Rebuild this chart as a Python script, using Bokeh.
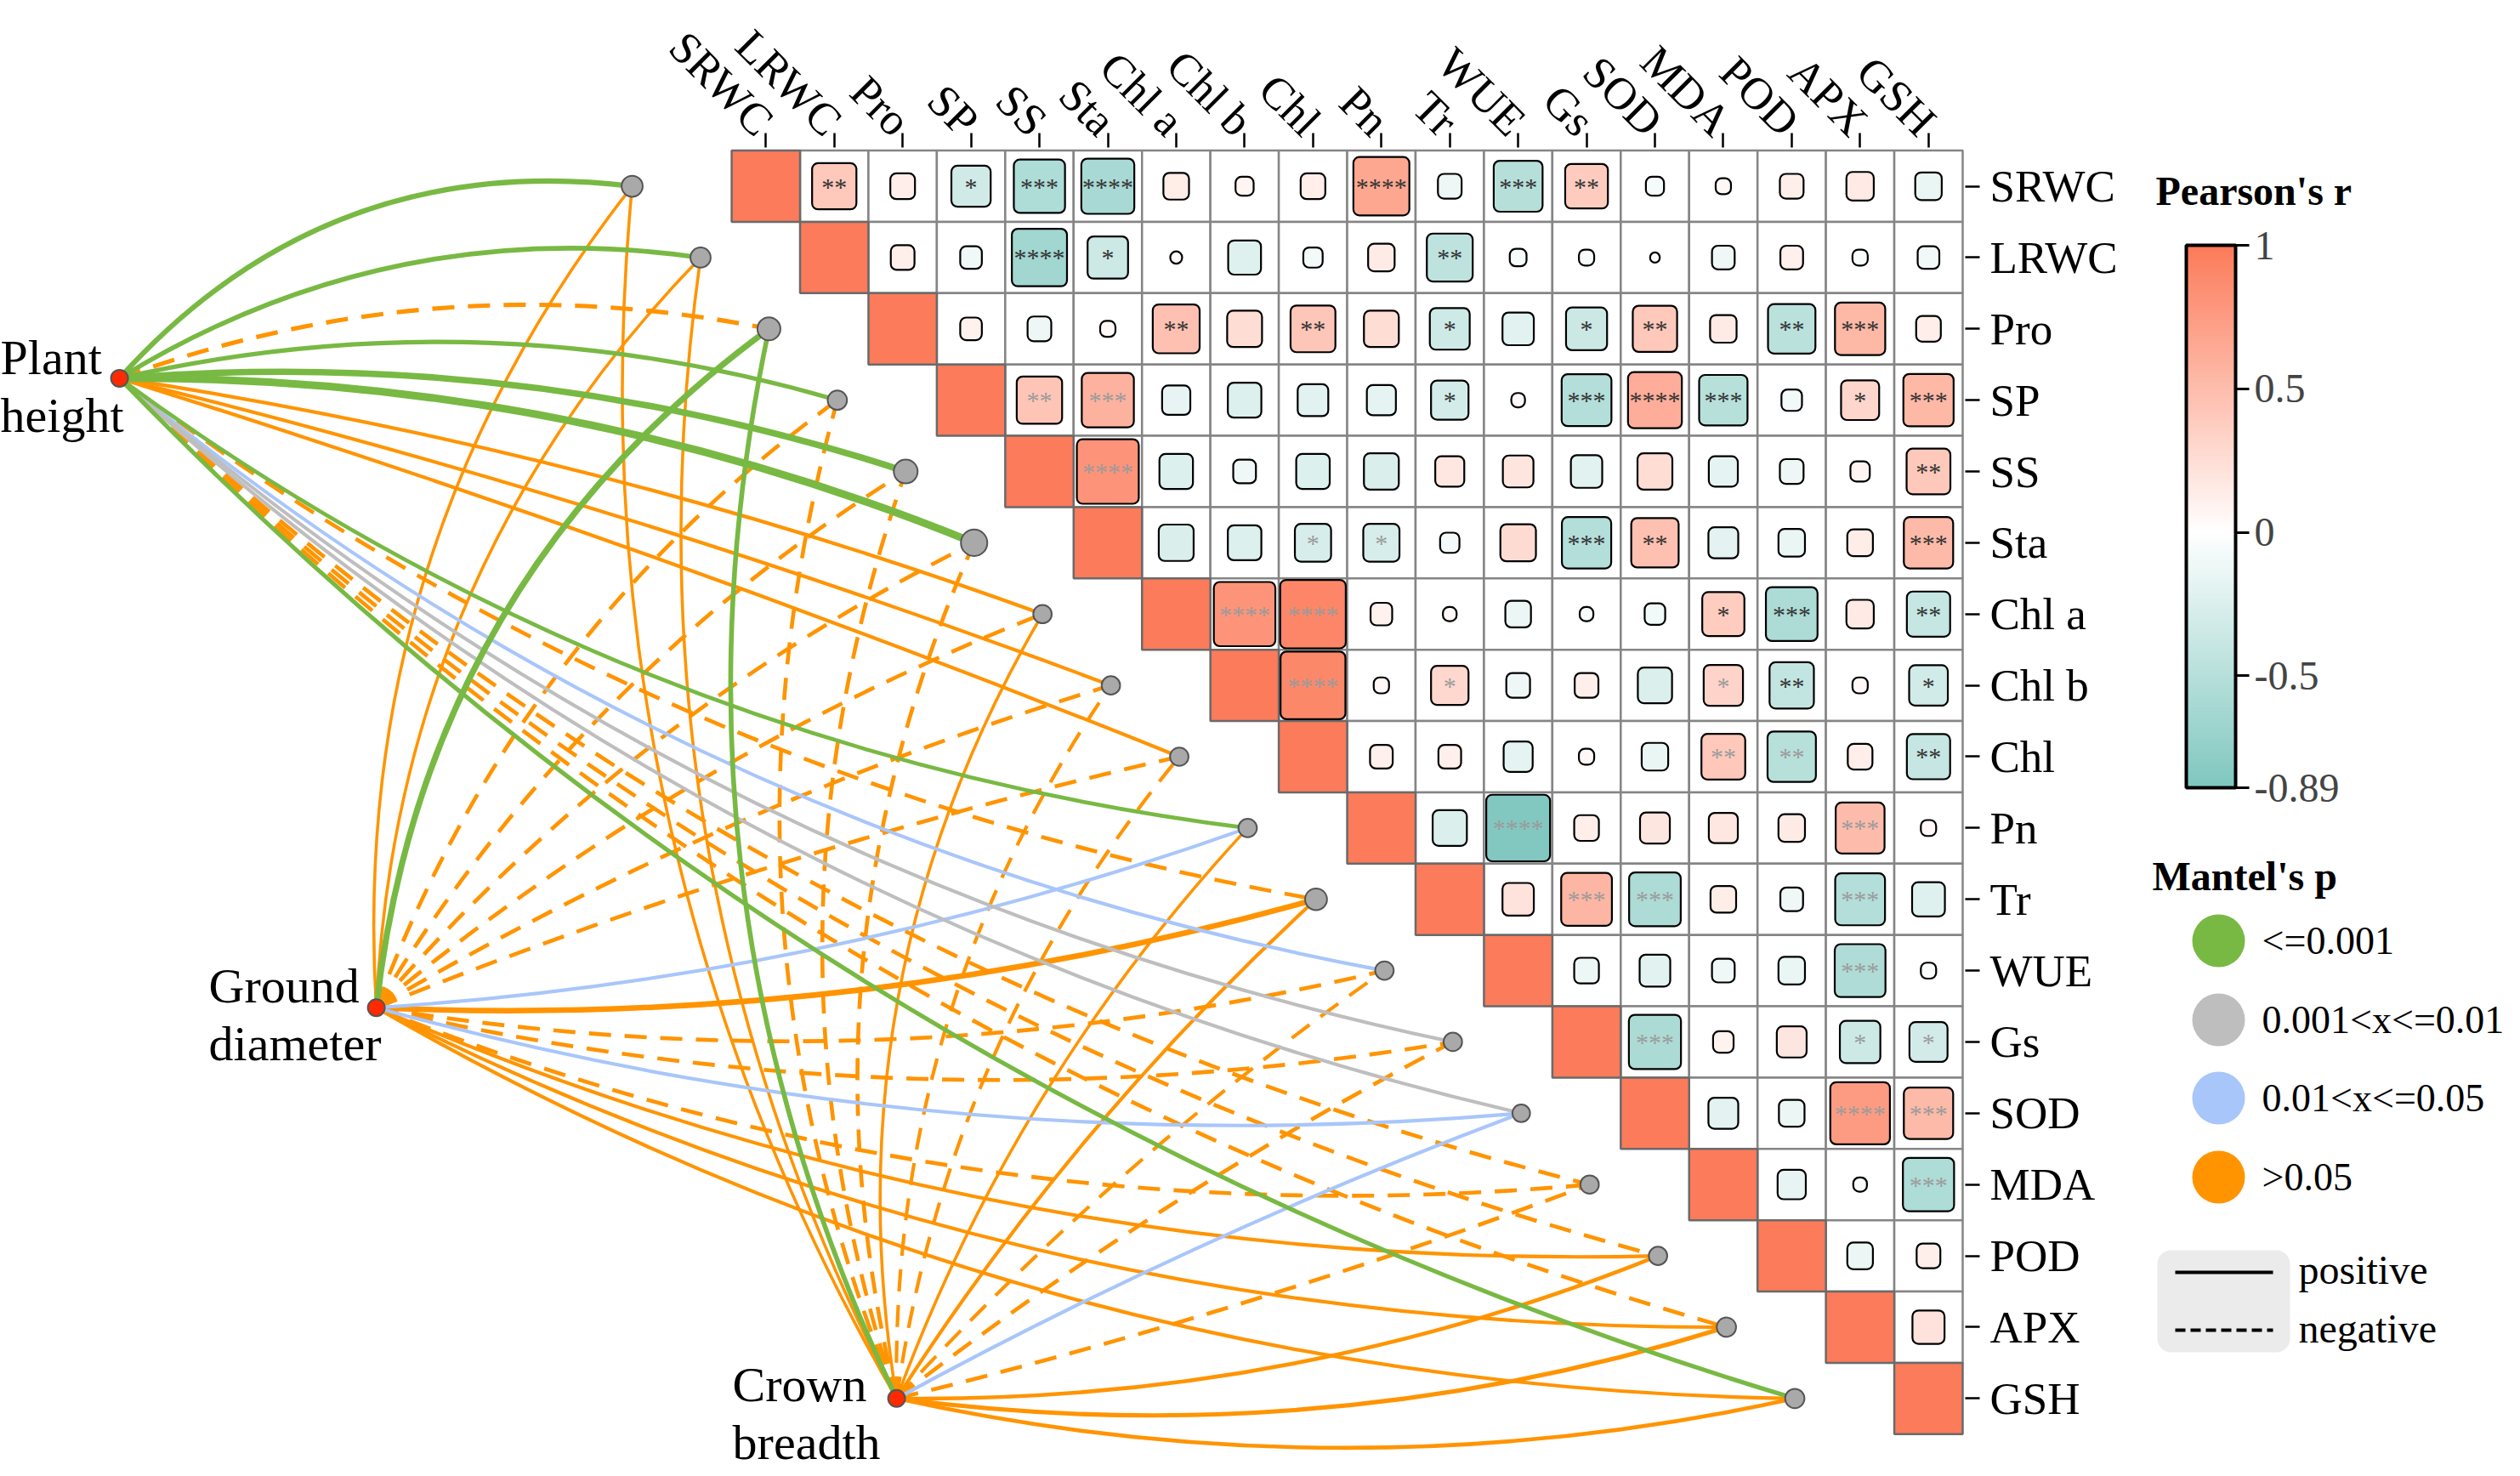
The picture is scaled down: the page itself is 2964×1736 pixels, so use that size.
import math
from bokeh.plotting import figure
from bokeh.models import Range1d, FixedTicker, LinearAxis, ColorBar, LinearColorMapper, ColumnDataSource
from bokeh.layouts import row
from bokeh.embed import file_html
from bokeh.resources import INLINE
from bokeh.core.properties import value

# ---------------- data ----------------
variables = ["SRWC", "LRWC", "Pro", "SP", "SS", "Sta", "Chl a", "Chl b", "Chl", "Pn",
             "Tr", "WUE", "Gs", "SOD", "MDA", "POD", "APX", "GSH"]

# Pearson's r, upper triangle, one list per row (columns after the diagonal)
r_SRWC = [0.42, 0.13, -0.33, -0.56, -0.60, 0.14, 0.07, 0.13, 0.67, -0.12, -0.51, 0.39, -0.07, 0.05, 0.12, 0.16, -0.15]
r_LRWC = [0.12, -0.10, -0.65, -0.35, 0.03, -0.23, -0.08, 0.15, -0.45, -0.06, -0.05, 0.02, -0.11, 0.11, -0.05, -0.10]
r_Pro = [0.10, -0.12, 0.05, 0.47, 0.26, 0.43, 0.26, -0.34, -0.21, -0.36, 0.42, 0.15, -0.48, 0.54, 0.13]
r_SP = [0.44, 0.58, -0.17, -0.24, -0.20, -0.18, -0.30, 0.04, -0.53, 0.62, -0.50, -0.09, 0.31, 0.54]
r_SS = [0.82, -0.24, -0.11, -0.24, -0.26, 0.18, 0.20, -0.21, 0.26, -0.18, -0.12, 0.08, 0.41]
r_Sta = [-0.26, -0.24, -0.28, -0.28, -0.08, 0.27, -0.52, 0.48, -0.19, -0.15, 0.14, 0.52]
r_Chla = [0.81, 0.92, 0.10, 0.04, -0.14, -0.04, -0.09, 0.38, -0.57, 0.16, -0.40]
r_Chlb = [0.90, 0.05, 0.30, -0.12, 0.12, -0.25, 0.33, -0.42, 0.05, -0.32]
r_Chl = [0.11, 0.11, -0.18, 0.05, -0.15, 0.41, -0.50, 0.13, -0.40]
r_Pn = [-0.25, -0.87, 0.13, 0.19, 0.18, 0.15, 0.51, 0.05]
r_Tr = [0.21, 0.55, -0.57, 0.14, -0.11, -0.53, -0.23]
r_WUE = [-0.13, -0.20, -0.11, -0.15, -0.55, -0.05]
r_Gs = [-0.58, 0.09, 0.19, -0.35, -0.31]
r_SOD = [-0.19, -0.14, 0.76, 0.52]
r_MDA = [-0.17, -0.04, -0.56]
r_POD = [-0.14, 0.12]
r_APX = [0.22]

# significance marks
s_SRWC = ["**", "", "*", "***", "****", "", "", "", "****", "", "***", "**", "", "", "", "", ""]
s_LRWC = ["", "", "****", "*", "", "", "", "", "**", "", "", "", "", "", "", ""]
s_Pro = ["", "", "", "**", "", "**", "", "*", "", "*", "**", "", "**", "***", ""]
s_SP = ["**", "***", "", "", "", "", "*", "", "***", "****", "***", "", "*", "***"]
s_SS = ["****", "", "", "", "", "", "", "", "", "", "", "", "**"]
s_Sta = ["", "", "*", "*", "", "", "***", "**", "", "", "", "***"]
s_Chla = ["****", "****", "", "", "", "", "", "*", "***", "", "**"]
s_Chlb = ["****", "", "*", "", "", "", "*", "**", "", "*"]
s_Chl = ["", "", "", "", "", "**", "**", "", "**"]
s_Pn = ["", "****", "", "", "", "", "***", ""]
s_Tr = ["", "***", "***", "", "", "***", ""]
s_WUE = ["", "", "", "", "***", ""]
s_Gs = ["***", "", "", "*", "*"]
s_SOD = ["", "", "****", "***"]
s_MDA = ["", "", "***"]
s_POD = ["", ""]
s_APX = [""]

gray_star_pairs = [("SP", "SS"), ("SP", "Sta"), ("SS", "Sta"), ("Sta", "Chl"), ("Sta", "Pn"),
                   ("Chl a", "Chl b"), ("Chl a", "Chl"), ("Chl b", "Chl"), ("Chl b", "Tr"),
                   ("Chl b", "MDA"), ("Chl", "MDA"), ("Chl", "POD"), ("Pn", "WUE"), ("Pn", "APX"),
                   ("Tr", "Gs"), ("Tr", "SOD"), ("Tr", "APX"), ("WUE", "APX"), ("Gs", "SOD"),
                   ("Gs", "APX"), ("Gs", "GSH"), ("SOD", "APX"), ("SOD", "GSH"), ("MDA", "GSH")]

# Mantel test: environment factors vs each variable
env_names = ["Plant height", "Ground diameter", "Crown breadth"]
mantel_p_PH = [0.001, 0.001, 0.62, 0.001, 0.001, 0.001, 0.21, 0.18, 0.25, 0.001, 0.45, 0.03, 0.006, 0.004, 0.55, 0.48, 0.51, 0.001]
mantel_r_PH = [0.29, 0.25, -0.21, 0.21, 0.42, 0.54, 0.13, 0.13, 0.13, 0.17, -0.17, 0.13, 0.13, 0.13, -0.17, -0.17, -0.17, 0.21]
mantel_p_GD = [0.35, 0.31, 0.001, 0.60, 0.50, 0.60, 0.70, 0.60, 0.60, 0.02, 0.07, 0.60, 0.50, 0.04, 0.60, 0.30, 0.30, 0.30]
mantel_r_GD = [0.08, 0.08, 0.38, -0.17, -0.17, -0.17, -0.17, -0.17, -0.17, 0.13, 0.33, -0.17, -0.17, 0.13, -0.17, 0.13, 0.13, 0.13]
mantel_p_CB = [0.40, 0.40, 0.001, 0.50, 0.50, 0.50, 0.30, 0.50, 0.50, 0.40, 0.30, 0.50, 0.50, 0.03, 0.50, 0.20, 0.15, 0.20]
mantel_r_CB = [0.08, 0.08, 0.25, -0.17, -0.17, -0.17, 0.08, -0.13, -0.13, 0.08, 0.13, -0.13, -0.17, 0.13, -0.17, 0.17, 0.21, 0.17]

# ---------------- styling ----------------
FONT = "Liberation Serif"
POS = (252, 123, 90)
NEG = (127, 199, 191)
R_MIN, R_MAX = -0.89, 1.0
P_COLORS = ["#78B943", "#BEBEBE", "#A8C6FA", "#FF9400"]
P_LABELS = ["<=0.001", "0.001<x<=0.01", "0.01<x<=0.05", ">0.05"]

# layout constants (pixels per grid cell, frame geometry)
SX, SY = 80.44, 83.87
FRAME_W, FRAME_H = 2311, 1556
TOP_B, RIGHT_B = 164, 197
NODE_DX = 1.455
env_anchor_x = [-8.951, -5.196, 2.412]
env_anchor_y = [3.193, 12.02, 17.50]
curv_PH = [0.26, 0.18, 0.14, 0.13, 0.10, 0.10, 0.05, 0.03, 0.02, -0.13, -0.12, -0.13, -0.13, -0.13, -0.13, -0.13, -0.13, -0.13]
curv_GD = [0.19, 0.19, 0.22, 0.15, 0.12, 0.10, 0.08, 0.06, 0.04, -0.07, -0.08, -0.10, -0.10, -0.09, -0.12, -0.11, -0.12, -0.13]
curv_CB = [0.16, 0.16, 0.17, 0.17, 0.17, 0.17, 0.18, 0.16, 0.14, 0.10, 0.065, 0.055, 0.045, 0.035, -0.03, -0.10, -0.11, -0.11]


def r_color(r):
    if r >= 0:
        t = min(r / R_MAX, 1.0)
        c = [255 + (POS[k] - 255) * t for k in range(3)]
    else:
        t = min(r / R_MIN, 1.0)
        c = [255 + (NEG[k] - 255) * t for k in range(3)]
    return "#%02x%02x%02x" % tuple(int(round(v)) for v in c)


def p_class(p):
    if p <= 0.001:
        return 0
    if p <= 0.01:
        return 1
    if p <= 0.05:
        return 2
    return 3


def width_of(mr):
    return 2.6 + 12.0 * abs(mr)


n = len(variables)
r_rows = [r_SRWC, r_LRWC, r_Pro, r_SP, r_SS, r_Sta, r_Chla, r_Chlb, r_Chl, r_Pn, r_Tr, r_WUE, r_Gs, r_SOD, r_MDA, r_POD, r_APX]
s_rows = [s_SRWC, s_LRWC, s_Pro, s_SP, s_SS, s_Sta, s_Chla, s_Chlb, s_Chl, s_Pn, s_Tr, s_WUE, s_Gs, s_SOD, s_MDA, s_POD, s_APX]

# ---------------- main figure ----------------
x_end = 18 + 3.0 / SX
x_start = x_end - FRAME_W / SX
y_top = -3.6 / SY
y_bot = y_top + FRAME_H / SY

p1 = figure(frame_width=FRAME_W, frame_height=FRAME_H,
            x_range=Range1d(x_start, x_end), y_range=Range1d(y_bot, y_top),
            x_axis_location=None, y_axis_location=None,
            min_border_left=0, min_border_bottom=0, min_border_top=TOP_B, min_border_right=RIGHT_B,
            output_backend="svg", toolbar_location=None)
p1.outline_line_color = None
p1.background_fill_color = "white"
p1.border_fill_color = "white"
p1.xgrid.visible = False
p1.ygrid.visible = False

tick_pos = [k + 0.5 for k in range(n)]
common_axis = dict(axis_line_color=None, major_tick_in=0, major_tick_out=17,
                   major_tick_line_width=2.5, major_tick_line_color="black",
                   minor_tick_line_color=None,
                   major_label_text_font=FONT, major_label_text_font_size="53px",
                   major_label_text_color="black")
ax_top = LinearAxis(ticker=FixedTicker(ticks=tick_pos, minor_ticks=[]),
                    major_label_overrides={t: v for t, v in zip(tick_pos, variables)},
                    major_label_orientation=-math.pi / 4, major_label_standoff=6, **common_axis)
p1.add_layout(ax_top, "above")
ax_right = LinearAxis(ticker=FixedTicker(ticks=tick_pos, minor_ticks=[]),
                      major_label_overrides={t: v for t, v in zip(tick_pos, variables)},
                      major_label_standoff=12, **common_axis)
p1.add_layout(ax_right, "right")

# grid cells
cells = dict(l=[], r=[], t=[], b=[])
for i in range(n):
    for j in range(i + 1, n):
        cells["l"].append(j); cells["r"].append(j + 1)
        cells["t"].append(i); cells["b"].append(i + 1)
p1.quad(left="l", right="r", top="t", bottom="b", source=ColumnDataSource(cells),
        fill_color="white", line_color="#858585", line_width=2.5)
diag = dict(l=list(range(n)), r=[k + 1 for k in range(n)], t=list(range(n)), b=[k + 1 for k in range(n)])
p1.quad(left="l", right="r", top="t", bottom="b", source=ColumnDataSource(diag),
        fill_color=r_color(1.0), line_color="#6a6a6a", line_width=2.5)

# correlation squares + stars
gray_set = set(gray_star_pairs)
sq = dict(l=[], r=[], t=[], b=[], color=[], x=[], y=[], star=[], star_color=[])
for i, (rv, sv) in enumerate(zip(r_rows, s_rows)):
    for k, (r, s) in enumerate(zip(rv, sv)):
        j = i + 1 + k
        h = math.sqrt(abs(r)) / 2.0
        cx, cy = j + 0.5, i + 0.5
        sq["l"].append(cx - h); sq["r"].append(cx + h)
        sq["t"].append(cy - h); sq["b"].append(cy + h)
        sq["color"].append(r_color(r))
        sq["x"].append(cx); sq["y"].append(cy)
        sq["star"].append(s)
        sq["star_color"].append("#9b9b9b" if (variables[i], variables[j]) in gray_set else "#333333")
sq_src = ColumnDataSource(sq)
p1.quad(left="l", right="r", top="t", bottom="b", source=sq_src, fill_color="color",
        line_color="black", line_width=2.2, border_radius=7)
p1.text(x="x", y="y", text="star", source=sq_src, text_color="star_color",
        text_font=value(FONT), text_font_size="30px", text_align="center", text_baseline="middle")

# Mantel links
mantel_p = [mantel_p_PH, mantel_p_GD, mantel_p_CB]
mantel_r = [mantel_r_PH, mantel_r_GD, mantel_r_CB]
curvs = [curv_PH, curv_GD, curv_CB]
links = []
node_w = [0.0] * n
for s in range(3):
    x0, y0 = env_anchor_x[s], env_anchor_y[s]
    for t in range(n):
        x1, y1 = t - NODE_DX, t + 0.5
        dxp, dyp = (x1 - x0) * SX, (y1 - y0) * SY
        kc = curvs[s][t]
        cx = (x0 + x1) / 2 + kc * dyp / SX
        cy = (y0 + y1) / 2 - kc * dxp / SY
        pc = p_class(mantel_p[s][t])
        w = width_of(mantel_r[s][t])
        node_w[t] = max(node_w[t], w)
        links.append(dict(x0=x0, y0=y0, x1=x1, y1=y1, cx=cx, cy=cy, color=P_COLORS[pc],
                          w=w, dashed=mantel_r[s][t] < 0, rank=3 - pc))


def link_source(items):
    keys = ["x0", "y0", "x1", "y1", "cx", "cy", "color", "w"]
    return ColumnDataSource({kk: [it[kk] for it in items] for kk in keys})


dashed = [l for l in links if l["dashed"]]
solid = sorted([l for l in links if not l["dashed"]], key=lambda l: l["rank"])
p1.quadratic(x0="x0", y0="y0", x1="x1", y1="y1", cx="cx", cy="cy", source=link_source(dashed),
             line_color="color", line_width="w", line_dash="26 16")
p1.quadratic(x0="x0", y0="y0", x1="x1", y1="y1", cx="cx", cy="cy", source=link_source(solid),
             line_color="color", line_width="w")

# variable nodes and environment nodes
p1.scatter(x=[t - NODE_DX for t in range(n)], y=[t + 0.5 for t in range(n)],
           size=[12 + 2.1 * w for w in node_w], marker="circle",
           fill_color="#a9a9a9", line_color="#555555", line_width=2)
p1.scatter(x=env_anchor_x, y=env_anchor_y, size=20, marker="circle",
           fill_color="#ff2a00", line_color="#555555", line_width=2)

label_dx = [-140, -197, -193]
label_dy = [-24, -26, -16]
for s in range(3):
    first, second = env_names[s].split(" ")
    p1.text(x=[env_anchor_x[s]], y=[env_anchor_y[s]], text=[first], x_offset=label_dx[s], y_offset=label_dy[s],
            text_font=value(FONT), text_font_size="58px", text_color="black",
            text_align="left", text_baseline="alphabetic")
    p1.text(x=[env_anchor_x[s]], y=[env_anchor_y[s]], text=[second], x_offset=label_dx[s], y_offset=label_dy[s] + 68,
            text_font=value(FONT), text_font_size="58px", text_color="black",
            text_align="left", text_baseline="alphabetic")

# ---------------- legend figure (frame aligned with the main one) ----------------
W2 = 440
p2 = figure(frame_width=W2, frame_height=FRAME_H,
            x_range=Range1d(0, W2), y_range=Range1d(TOP_B + FRAME_H, TOP_B),
            x_axis_location=None, y_axis_location=None,
            min_border_left=0, min_border_right=0, min_border_bottom=0, min_border_top=TOP_B,
            output_backend="svg", toolbar_location=None)
p2.outline_line_color = None
p2.xgrid.visible = False
p2.ygrid.visible = False

palette = [r_color(R_MIN + (R_MAX - R_MIN) * k / 255.0) for k in range(256)]
mapper = LinearColorMapper(palette=palette, low=R_MIN, high=R_MAX)
cb_ticks = [-0.89, -0.5, 0, 0.5, 1]
cbar = ColorBar(color_mapper=mapper, location=(63, 803), width=58, height=638, padding=0, margin=0,
                ticker=FixedTicker(ticks=cb_ticks, minor_ticks=[]),
                major_label_overrides={-0.89: "-0.89", -0.5: "-0.5", 0: "0", 0.5: "0.5", 1: "1"},
                major_tick_in=0, major_tick_out=16, major_tick_line_color="black", major_tick_line_width=3,
                minor_tick_line_color=None, bar_line_color="black", bar_line_width=4,
                major_label_text_font=FONT, major_label_text_font_size="48px", label_standoff=6,
                background_fill_color=None, border_line_color=None)
p2.add_layout(cbar, "center")

p2.text(x=[27], y=[215], text=["Pearson's r"], text_font=value(FONT), text_font_size="48px",
        text_font_style="bold", text_baseline="alphabetic")
p2.text(x=[23], y=[1021], text=["Mantel's p"], text_font=value(FONT), text_font_size="48px",
        text_font_style="bold", text_baseline="alphabetic")
leg_y = [1097, 1190, 1282, 1375]
p2.scatter(x=[101] * 4, y=leg_y, size=62, marker="circle", fill_color=P_COLORS, line_color=None)
p2.text(x=[152] * 4, y=leg_y, text=P_LABELS, text_font=value(FONT), text_font_size="46px",
        text_baseline="middle")
p2.quad(left=[29], right=[185], top=[1461], bottom=[1581], fill_color="#ebebeb", line_color=None,
        border_radius=16)
p2.segment(x0=[50], y0=[1487], x1=[165], y1=[1487], line_color="black", line_width=4)
p2.segment(x0=[50], y0=[1555], x1=[165], y1=[1555], line_color="black", line_width=4, line_dash="12 6")
p2.text(x=[195, 195], y=[1484, 1553], text=["positive", "negative"], text_font=value(FONT),
        text_font_size="48px", text_baseline="middle")

layout = row(p1, p2)
open("out.html", "w").write(file_html(layout, INLINE))
